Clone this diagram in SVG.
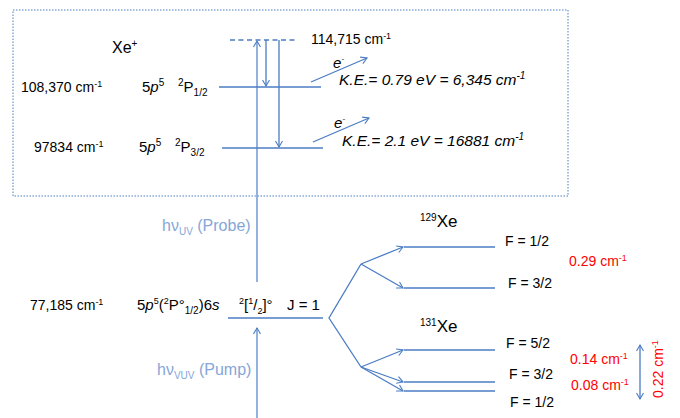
<svg xmlns="http://www.w3.org/2000/svg" width="680" height="418" viewBox="0 0 680 418">
<style>
text{font-family:"Liberation Sans",Arial,sans-serif;fill:#000}
.t14{font-size:14px}
.t15{font-size:15px}
.t16{font-size:16px}
.ke{font-size:15.5px;font-style:italic}
.lb{fill:#86a6d8;font-size:16px}
.red{fill:#ff0000;font-size:14px}
.ln{stroke:#4a7cc4;stroke-width:1.3;fill:none}
.lp{stroke:#6f98d6;stroke-width:1.5;fill:none}
</style>
<defs>
<marker id="ah" markerUnits="userSpaceOnUse" markerWidth="12" markerHeight="12" refX="0" refY="0" viewBox="-8 -6 10 12" orient="auto">
<path d="M-6,-3.5 L0,0 L-6,3.5" fill="none" stroke="#4a7cc4" stroke-width="1.1"/>
</marker>
<marker id="ah2" markerUnits="userSpaceOnUse" markerWidth="12" markerHeight="12" refX="0" refY="0" viewBox="-8 -6 10 12" orient="auto-start-reverse">
<path d="M-6,-3.5 L0,0 L-6,3.5" fill="none" stroke="#4a7cc4" stroke-width="1.1"/>
</marker>
</defs>
<rect x="13" y="10" width="555" height="186" fill="none" stroke="#4a7cc4" stroke-width="1" stroke-dasharray="1.5,1.5"/>
<g id="connectors">
<line class="ln" x1="230" y1="40" x2="295" y2="40" stroke-dasharray="5,3.5"/>
<line class="lp" x1="257" y1="282" x2="257" y2="41" marker-end="url(#ah)"/>
<line class="ln" x1="266" y1="40" x2="266" y2="86" marker-end="url(#ah)"/>
<line class="ln" x1="279" y1="40" x2="279" y2="147" marker-end="url(#ah)"/>
<line class="ln" x1="311" y1="82" x2="367" y2="58" marker-end="url(#ah)"/>
<line class="ln" x1="313" y1="142" x2="369" y2="118" marker-end="url(#ah)"/>
<line class="lp" x1="257" y1="418" x2="257" y2="328" marker-end="url(#ah)"/>
<polyline class="ln" points="361,264 329,318 361,367"/>
<line class="ln" x1="361" y1="264" x2="403" y2="247" marker-end="url(#ah)"/>
<line class="ln" x1="361" y1="264" x2="403" y2="288" marker-end="url(#ah)"/>
<line class="ln" x1="361" y1="367" x2="403" y2="350" marker-end="url(#ah)"/>
<line class="ln" x1="361" y1="367" x2="403" y2="382" marker-end="url(#ah)"/>
<line class="ln" x1="361" y1="367" x2="403" y2="391" marker-end="url(#ah)"/>
<line class="ln" x1="640" y1="345" x2="640" y2="399" marker-start="url(#ah2)" marker-end="url(#ah2)"/>
</g>
<g id="ion">
<text x="112" y="53" class="t16">Xe<tspan dy="-6" font-size="10">+</tspan></text>
<text x="311" y="44" class="t14">114,715 cm<tspan dy="-5" font-size="9">-1</tspan></text>
</g>
<g id="level-p12">
<line class="ln" x1="219" y1="87" x2="321" y2="87"/>
<text x="21" y="92" class="t14">108,370 cm<tspan dy="-5" font-size="9">-1</tspan></text>
<text x="142" y="92" class="t15">5<tspan font-style="italic">p</tspan><tspan dy="-6" font-size="10">5</tspan></text>
<text x="178" y="92" class="t15"><tspan dy="-6" font-size="10">2</tspan><tspan dy="6">P</tspan><tspan dy="4" font-size="10">1/2</tspan></text>
<text x="333" y="68" class="t15" font-style="italic">e<tspan dy="-6" font-size="9">-</tspan></text>
<text x="339" y="85" class="ke">K.E.= 0.79 eV = 6,345 cm<tspan dy="-6" font-size="10">-1</tspan></text>
</g>
<g id="level-p32">
<line class="ln" x1="222" y1="148" x2="323" y2="148"/>
<text x="34" y="152" class="t14">97834 cm<tspan dy="-5" font-size="9">-1</tspan></text>
<text x="139" y="152" class="t15">5<tspan font-style="italic">p</tspan><tspan dy="-6" font-size="10">5</tspan></text>
<text x="175" y="152" class="t15"><tspan dy="-6" font-size="10">2</tspan><tspan dy="6">P</tspan><tspan dy="4" font-size="10">3/2</tspan></text>
<text x="334" y="128" class="t15" font-style="italic">e<tspan dy="-6" font-size="9">-</tspan></text>
<text x="342" y="146" class="ke">K.E.= 2.1 eV = 16881 cm<tspan dy="-6" font-size="10">-1</tspan></text>
</g>
<g id="probe-label">
<text x="162" y="231" class="lb">hν<tspan dy="4" font-size="10">UV</tspan><tspan dy="-4"> (Probe)</tspan></text>
</g>
<g id="level-6s">
<line class="ln" x1="228" y1="318" x2="323" y2="318"/>
<text x="30" y="310" class="t14">77,185 cm<tspan dy="-5" font-size="9">-1</tspan></text>
<text x="137" y="310" class="t15">5<tspan font-style="italic">p</tspan><tspan dy="-6" font-size="9">5</tspan><tspan dy="6">(</tspan><tspan dy="-6" font-size="9">2</tspan><tspan dy="6">P°</tspan><tspan dy="4" font-size="10">1/2</tspan><tspan dy="-4">)6</tspan><tspan font-style="italic">s</tspan></text>
<text x="239" y="310" class="t15"><tspan dy="-6" font-size="9">2</tspan><tspan dy="6">[</tspan><tspan dy="-6" font-size="9">1</tspan><tspan dy="6">/</tspan><tspan dy="4" font-size="9">2</tspan><tspan dy="-4">]°</tspan></text>
<text x="287" y="310" class="t15">J = 1</text>
</g>
<g id="pump-label">
<text x="157" y="375" class="lb">hν<tspan dy="4" font-size="10">VUV</tspan><tspan dy="-4"> (Pump)</tspan></text>
</g>
<g id="xe129">
<text x="420" y="227" font-size="17"><tspan dy="-6" font-size="10">129</tspan><tspan dy="6">Xe</tspan></text>
<line class="ln" x1="404" y1="247" x2="495" y2="247"/>
<line class="ln" x1="404" y1="288" x2="495" y2="288"/>
<text x="505" y="246" class="t14">F = 1/2</text>
<text x="508" y="288" class="t14">F = 3/2</text>
<text x="569" y="266" class="red">0.29 cm<tspan dy="-5" font-size="9">-1</tspan></text>
</g>
<g id="xe131">
<text x="420" y="332" font-size="17"><tspan dy="-6" font-size="10">131</tspan><tspan dy="6">Xe</tspan></text>
<line class="ln" x1="404" y1="350" x2="495" y2="350"/>
<line class="ln" x1="404" y1="382" x2="495" y2="382"/>
<line class="ln" x1="404" y1="391" x2="495" y2="391"/>
<text x="506" y="348" class="t14">F = 5/2</text>
<text x="509" y="379" class="t14">F = 3/2</text>
<text x="510" y="407" class="t14">F = 1/2</text>
<text x="570" y="364" class="red">0.14 cm<tspan dy="-5" font-size="9">-1</tspan></text>
<text x="571" y="390" class="red">0.08 cm<tspan dy="-5" font-size="9">-1</tspan></text>
<text x="663" y="398" class="red" transform="rotate(-90 663 398)">0.22 cm<tspan dy="-5" font-size="9">-1</tspan></text>
</g>
</svg>
